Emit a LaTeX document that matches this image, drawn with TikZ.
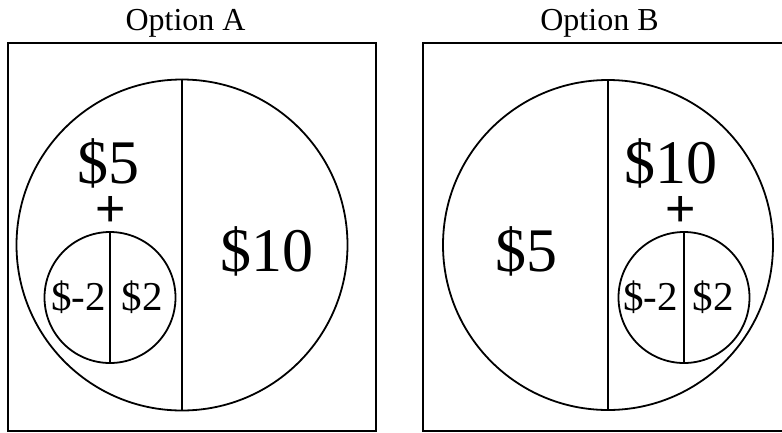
\documentclass[tikz,border=0pt]{standalone}
\usepackage{fontspec}
\setmainfont{Liberation Serif}
\newfontfamily\plusfont{Liberation Sans}
\begin{document}
\begin{tikzpicture}[x=1pt, y=-1pt, line width=1.8pt]
	\tikzstyle{panel} = [draw, line width=2pt]
	\tikzstyle{wheel} = [circle, draw, inner sep=0pt]
	\tikzstyle{divider} = [line width=1.8pt]
	\tikzstyle{bigamount} = [font=\fontsize{62}{62}\selectfont, anchor=base, inner sep=0pt]
	\tikzstyle{smallamount} = [font=\fontsize{41}{41}\selectfont, anchor=base, inner sep=0pt]
	\tikzstyle{optiontitle} = [font=\fontsize{32}{32}\selectfont, anchor=base, inner sep=0pt]
	\tikzstyle{plussign} = [font=\plusfont\fontsize{52}{52}\selectfont, inner sep=0pt]
	
	% Page size (the right frame runs off the edge)
	\useasboundingbox (0,0) rectangle (782,432);
	\clip (0,0) rectangle (782,432);
	
	% Option A: frame, wheel and inner wheel
	\node[optiontitle] (titleA) at (185.5,30) {Option A};
	\draw[panel] (8,43) rectangle (376,431);
	\node[wheel, minimum size=331] (wheelA) at (182,245) {};
	\draw[divider] (wheelA.north) -- (wheelA.south);
	\node[wheel, minimum size=131] (subA) at (110,297.5) {};
	\draw[divider] (subA.north) -- (subA.south);
	
	% Option A amounts
	\node[bigamount] (fiveA) at (108,183) {\$5};
	\node[plussign] (plusA) at (110.5,211) {+};
	\node[bigamount] (tenA) at (266.5,271) {\$10};
	\node[smallamount] (lossA) at (78.5,310) {\$-2};
	\node[smallamount] (gainA) at (142,310) {\$2};
	
	% Option B: frame, wheel and inner wheel
	\node[optiontitle] (titleB) at (599.5,30) {Option B};
	\draw[panel] (423,43) rectangle (791,431);
	\node[wheel, minimum size=330] (wheelB) at (608,245) {};
	\draw[divider] (wheelB.north) -- (wheelB.south);
	\node[wheel, minimum size=131] (subB) at (684,297.5) {};
	\draw[divider] (subB.north) -- (subB.south);
	
	% Option B amounts
	\node[bigamount] (tenB) at (670.5,183) {\$10};
	\node[plussign] (plusB) at (681,211) {+};
	\node[bigamount] (fiveB) at (526.5,271) {\$5};
	\node[smallamount] (lossB) at (650.5,310) {\$-2};
	\node[smallamount] (gainB) at (713,310) {\$2};
	
\end{tikzpicture}
\end{document}
